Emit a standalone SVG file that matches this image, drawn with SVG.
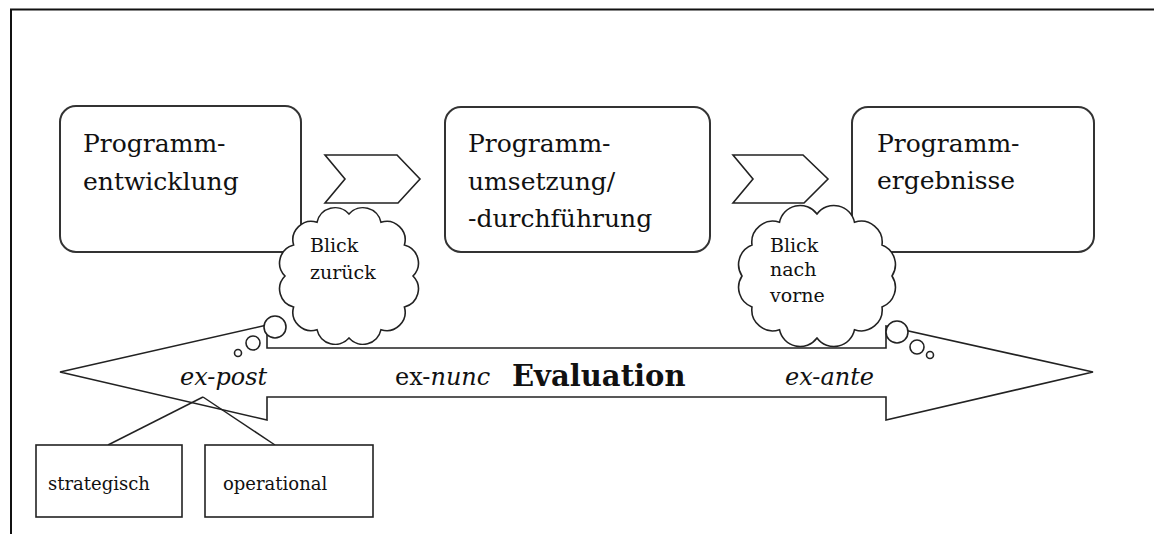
<svg xmlns="http://www.w3.org/2000/svg" width="1154" height="534" viewBox="0 0 1154 534">
<style>
.frame{stroke:#111;stroke-width:2;fill:none}
.box{fill:#fff;stroke:#333;stroke-width:2}
.shape{fill:#fff;stroke:#222;stroke-width:1.6}
.ln{stroke:#222;stroke-width:1.5;fill:none}
.t{font-family:"DejaVu Serif","Liberation Serif",serif;fill:#111}
.big{font-size:25px}
.cl{font-size:19px}
.ev{font-size:24px}
.it{font-style:italic}
.sm{font-size:18px}
</style>
<rect width="1154" height="534" fill="#fff"/>
<path class="frame" d="M11,534 V9.5 H1154"/>

<g id="box-entwicklung">
<rect class="box" x="60" y="106" width="241" height="146" rx="16"/>
<text class="t big" x="83" y="152">Programm-</text>
<text class="t big" x="83" y="190">entwicklung</text>
</g>
<g id="box-umsetzung">
<rect class="box" x="445" y="107" width="265" height="145" rx="16"/>
<text class="t big" x="468" y="152">Programm-</text>
<text class="t big" x="468" y="189.5">umsetzung/</text>
<text class="t big" x="468" y="227">-durchführung</text>
</g>
<g id="box-ergebnisse">
<rect class="box" x="852" y="107" width="242" height="145" rx="16"/>
<text class="t big" x="877" y="152">Programm-</text>
<text class="t big" x="877" y="189">ergebnisse</text>
</g>

<g id="evaluation-arrow">
<polygon class="shape" points="60,372 267,325 267,348 886,348 886,326 1093,372 886,420 886,397 267,397 267,420"/>
<text class="t ev it" x="180" y="385">ex-post</text>
<text class="t ev" x="395" y="385">ex-<tspan class="it">nunc</tspan></text>
<text class="t" x="512" y="386" font-size="29" font-weight="bold">Evaluation</text>
<text class="t ev it" x="785" y="385">ex-ante</text>
</g>

<g id="connectors">
<polygon class="shape" points="325,155 397,155 420,179 398,203 325,203 345,179"/>
<polygon class="shape" points="733,155 803,155 828,179 804,203 733,203 753,179"/>
<line class="ln" x1="108" y1="445" x2="203" y2="397"/>
<line class="ln" x1="203" y1="397" x2="275" y2="445"/>
</g>

<g id="cloud-zurueck">
<path class="shape" d="M349,214 A18.5,18.5 0 0,1 381,222.3 A18.5,18.5 0 0,1 404.4,245 A18.5,18.5 0 0,1 413,276 A18.5,18.5 0 0,1 404.4,307 A18.5,18.5 0 0,1 381,329.7 A18.5,18.5 0 0,1 349,338 A18.5,18.5 0 0,1 317,329.7 A18.5,18.5 0 0,1 293.6,307 A18.5,18.5 0 0,1 285,276 A18.5,18.5 0 0,1 293.6,245 A18.5,18.5 0 0,1 317,222.3 A18.5,18.5 0 0,1 349,214 Z"/>
<circle class="shape" cx="275" cy="327" r="11"/>
<circle class="shape" cx="253" cy="343" r="7"/>
<circle class="shape" cx="238" cy="353" r="3.5"/>
<text class="t cl" x="310" y="252">Blick</text>
<text class="t cl" x="310" y="279">zurück</text>
</g>

<g id="cloud-vorne">
<path class="shape" d="M817,214 A21,21 0 0,1 854.5,222.3 A21,21 0 0,1 882,245 A21,21 0 0,1 892,276 A21,21 0 0,1 882,307 A21,21 0 0,1 854.5,329.7 A21,21 0 0,1 817,338 A21,21 0 0,1 779.5,329.7 A21,21 0 0,1 752,307 A21,21 0 0,1 742,276 A21,21 0 0,1 752,245 A21,21 0 0,1 779.5,222.3 A21,21 0 0,1 817,214 Z"/>
<circle class="shape" cx="897" cy="332" r="11"/>
<circle class="shape" cx="917" cy="347" r="7"/>
<circle class="shape" cx="930" cy="355" r="3.5"/>
<text class="t cl" x="770" y="252">Blick</text>
<text class="t cl" x="770" y="276">nach</text>
<text class="t cl" x="770" y="302">vorne</text>
</g>

<g id="box-strategisch">
<rect class="shape" x="36" y="445" width="146" height="72"/>
<text class="t sm" x="48" y="490">strategisch</text>
</g>
<g id="box-operational">
<rect class="shape" x="205" y="445" width="168" height="72"/>
<text class="t sm" x="223" y="490">operational</text>
</g>
</svg>
